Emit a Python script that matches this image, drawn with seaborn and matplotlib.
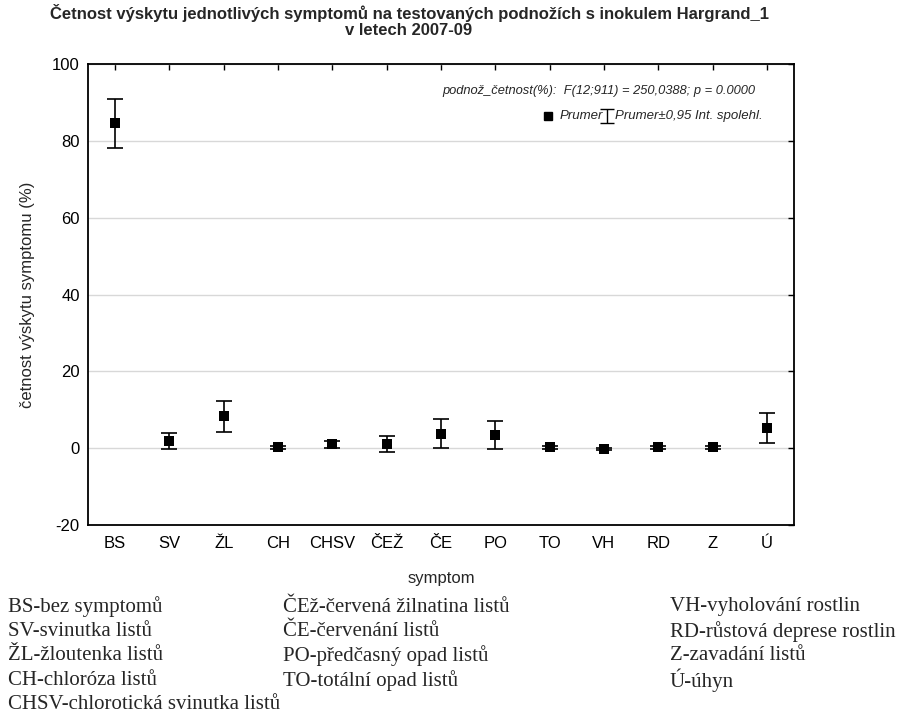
import numpy as np
import pandas as pd
import seaborn as sns
import matplotlib.pyplot as plt

# -----------------------------
# Data
# -----------------------------
symptoms = ["BS", "SV", "ŽL", "CH", "CHSV", "ČEŽ", "ČE", "PO", "TO", "VH", "RD", "Z", "Ú"]
means = [84.7, 1.8, 8.3, 0.3, 1.0, 1.1, 3.8, 3.5, 0.3, -0.2, 0.3, 0.3, 5.3]
ci95 = [6.4, 2.1, 4.0, 0.4, 1.0, 2.2, 3.7, 3.7, 0.4, 0.3, 0.4, 0.4, 3.9]

legend_cols = [
    ["BS-bez symptomů", "SV-svinutka listů", "ŽL-žloutenka listů",
     "CH-chloróza listů", "CHSV-chlorotická svinutka listů"],
    ["ČEž-červená žilnatina listů", "ČE-červenání listů",
     "PO-předčasný opad listů", "TO-totální opad listů"],
    ["VH-vyholování rostlin", "RD-růstová deprese rostlin",
     "Z-zavadání listů", "Ú-úhyn"],
]

df = pd.DataFrame({"symptom": symptoms, "mean": means, "ci": ci95})

sns.set_style("white")
plt.rcParams["font.family"] = ["Liberation Sans", "DejaVu Sans"]

fig = plt.figure(figsize=(9.01, 7.16), dpi=100)
ax = fig.add_axes([88 / 901, 1 - 525 / 716, (794 - 88) / 901, (525 - 64.5) / 716])

# error bars
ax.errorbar(np.arange(len(df)), df["mean"], yerr=df["ci"], fmt="none",
            ecolor="black", elinewidth=1.2, capsize=6, capthick=1.2, zorder=3)
# means
sns.scatterplot(data=df, x="symptom", y="mean", marker="s", s=50,
                color="black", edgecolor="black", linewidth=0, ax=ax, zorder=4)

ax.set_xlim(-0.5, len(symptoms) - 0.5)
ax.set_ylim(-20, 100)
ax.set_yticks([-20, 0, 20, 40, 60, 80, 100])
ax.set_yticklabels(["-20", "0", "20", "40", "60", "80", "100"])
ax.yaxis.grid(True, color="#d8d8d8", linewidth=1)
ax.set_axisbelow(True)
for s in ax.spines.values():
    s.set_color("black")
    s.set_linewidth(1.3)
ax.tick_params(direction="in", length=4, width=1, top=True, right=True,
               labelsize=12, colors="black", pad=8)
ax.tick_params(axis="y", pad=6)

ax.set_xlabel("symptom", fontsize=12, labelpad=14)
ax.set_ylabel("četnost výskytu symptomu (%)", fontsize=12, labelpad=12)

fig.text(0.454, 0.995, "Četnost výskytu jednotlivých symptomů na testovaných podnožích s inokulem Hargrand_1\nv letech 2007-09",
         ha="center", va="top", fontsize=12, fontweight="bold", linespacing=1.1)

# stats annotation and legend-like key inside the plot
ax.text(0.945, 0.942, "podnož_četnost(%):  F(12;911) = 250,0388; p = 0.0000",
        transform=ax.transAxes, ha="right", va="center", fontsize=9.3, style="italic")
ax.plot([0.651], [0.888], transform=ax.transAxes, marker="s", color="black",
        markersize=5.5, linestyle="none")
ax.text(0.668, 0.888, "Prumer", transform=ax.transAxes, ha="left", va="center",
        fontsize=9.5, style="italic")
ax.errorbar([0.735], [0.888], yerr=[0.015], transform=ax.transAxes, fmt="none",
            ecolor="black", elinewidth=1, capsize=5, capthick=1)
ax.text(0.747, 0.888, "Prumer±0,95 Int. spolehl.", transform=ax.transAxes,
        ha="left", va="center", fontsize=9.5, style="italic")

# abbreviation key below the chart
col_x = [8, 283, 670]
for cx, lines in zip(col_x, legend_cols):
    for i, line in enumerate(lines):
        fig.text(cx / 901, 1 - (607 + i * 24.4) / 716, line, ha="left", va="center",
                 fontsize=15, family=["Liberation Serif", "DejaVu Serif"])

fig.savefig("out.png", dpi=100)
